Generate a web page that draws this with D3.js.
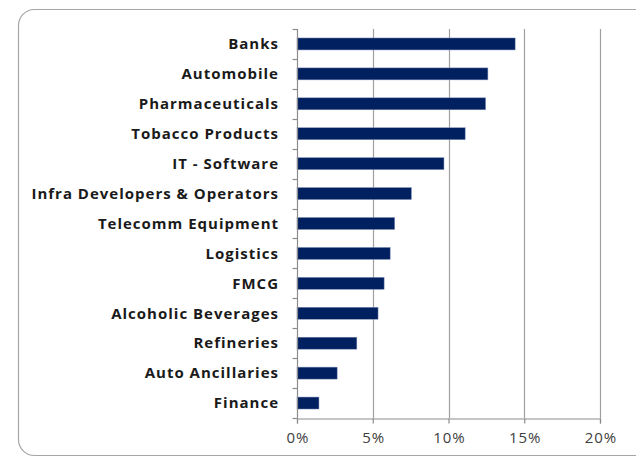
<!DOCTYPE html>
<html><head><meta charset="utf-8">
<script src="https://cdn.jsdelivr.net/npm/d3@7/dist/d3.min.js"></script>
<style>body{margin:0;background:#fff;} svg{display:block;}</style>
</head><body>
<svg id="c" width="636" height="457"></svg>
<script>
const categories = ["Banks","Automobile","Pharmaceuticals","Tobacco Products","IT - Software","Infra Developers & Operators","Telecomm Equipment","Logistics","FMCG","Alcoholic Beverages","Refineries","Auto Ancillaries","Finance"];
const values = [14.4, 12.6, 12.45, 11.1, 9.7, 7.55, 6.45, 6.15, 5.75, 5.35, 3.95, 2.65, 1.45];
const tickValues = [0, 5, 10, 15, 20];

(function(){
const svg = d3.select("#c");
svg.append("rect").attr("x",18.5).attr("y",9.5).attr("width",640).attr("height",446)
  .attr("rx",16).attr("fill","#fff").attr("stroke","#a6a6a6").attr("stroke-width",1.2);

const pL = 297, pR = 600, pT = 29, pB = 418;
const x = d3.scaleLinear().domain([0,20]).range([pL,pR]);
const y = d3.scaleBand().domain(categories).range([pT,pB]).paddingInner(0.6).paddingOuter(0.3);
const yb = d3.scaleBand().domain(categories).range([pT,pB]);

svg.append("g").selectAll("line").data(tickValues.filter(d=>d>0)).join("line")
  .attr("x1",d=>Math.round(x(d))+0.5).attr("x2",d=>Math.round(x(d))+0.5)
  .attr("y1",pT).attr("y2",pB).attr("stroke","#a0a0a0").attr("stroke-width",1.2);

svg.append("g").selectAll("rect").data(categories).join("rect")
  .attr("x",x(0)).attr("y",d=>y(d)).attr("height",y.bandwidth())
  .attr("width",(d,i)=>x(values[i])-x(0))
  .attr("fill","#002060").attr("stroke","#8090b8").attr("stroke-width",0.5);

const ya = svg.append("g").attr("transform",`translate(${pL+0.5},0)`);
ya.append("line").attr("y1",pT).attr("y2",pB).attr("stroke","#8c8c8c").attr("stroke-width",1.2);
const bounds = categories.map(d=>yb(d)).concat([pB]);
ya.selectAll("line.t").data(bounds).join("line").attr("class","t")
  .attr("x1",-5).attr("x2",0).attr("y1",d=>Math.round(d)+0.5).attr("y2",d=>Math.round(d)+0.5)
  .attr("stroke","#8c8c8c").attr("stroke-width",1.2);
svg.append("g").selectAll("text").data(categories).join("text")
  .attr("x",279).attr("y",d=>yb(d)+yb.bandwidth()/2).attr("dy","0.35em")
  .attr("text-anchor","end").attr("font-family","'Open Sans', sans-serif")
  .attr("font-weight","bold").attr("font-size",15).attr("letter-spacing",1.0)
  .attr("fill","#1a1a1a").text(d=>d);

const xa = svg.append("g").attr("transform",`translate(0,${pB+0.5})`)
  .call(d3.axisBottom(x).tickValues(tickValues).tickSize(5).tickFormat(d=>d+"%"));
xa.select(".domain").attr("stroke","#8c8c8c").attr("stroke-width",1.2);
xa.selectAll(".tick line").attr("stroke","#8c8c8c").attr("stroke-width",1.2);
xa.selectAll(".tick text").attr("font-family","'Open Sans', sans-serif")
  .attr("font-size",15).attr("letter-spacing",1.0).attr("dx",0.5)
  .attr("fill","#404040").attr("dy","1.1em");
})();
</script>
</body></html>
